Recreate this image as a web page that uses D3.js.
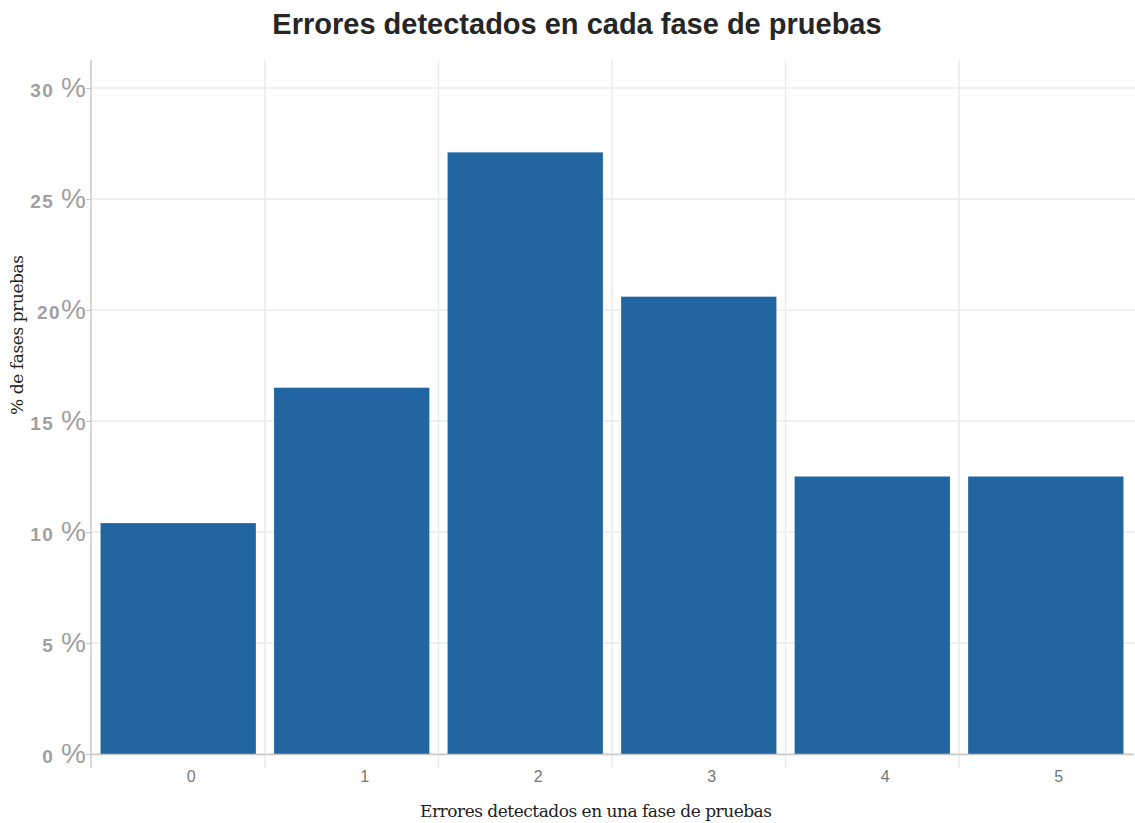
<!DOCTYPE html>
<html>
<head>
<meta charset="utf-8">
<script src="https://cdn.jsdelivr.net/npm/d3@7"></script>
<style>
  body { margin: 0; background: #fff; }
  .chart-title { font-family: "Liberation Sans", Arial, sans-serif; font-weight: bold; font-size: 29px; fill: #262626; }
  .axis-label { font-family: "DejaVu Serif", "Liberation Serif", serif; font-size: 17px; fill: #222; }
  .ytick text { font-family: "Liberation Sans", Arial, sans-serif; font-weight: bold; font-size: 19px; fill: #a0a0a0; letter-spacing: 1.5px; }
  .ytick text .pct { font-size: 28px; font-weight: normal; letter-spacing: 0; }
  .xtick text { font-family: "Liberation Sans", Arial, sans-serif; font-size: 16px; fill: #777; }
</style>
</head>
<body>
<div id="container"></div>
<script>
/* DATA */
const categories = ["0", "1", "2", "3", "4", "5"];
const percents = [10.4, 16.5, 27.1, 20.6, 12.5, 12.5];
const yTicks = [0, 5, 10, 15, 20, 25, 30];
const yTickLabels = ["0 ", "5 ", "10 ", "15 ", "20", "25 ", "30 "];

/* CONSTANTS */
const width = 1135;
const height = 823;
const plotLeft = 91, plotRight = 1133, plotTop = 60, plotBottom = 754;

const data = categories.map((c, i) => ({ cat: c, value: percents[i] }));

/* SCALES */
const xScale = d3.scaleBand()
  .domain(categories)
  .range([plotLeft, plotRight])
  .paddingInner(0.105)
  .paddingOuter(0.055);

const yScale = d3.scaleLinear()
  .domain([0, 30])
  .range([plotBottom, 88]);

const svg = d3.select("#container")
  .append("svg")
  .attr("width", width)
  .attr("height", height);

// horizontal gridlines
svg.append("g")
  .selectAll("line")
  .data(yTicks)
  .join("line")
  .attr("x1", plotLeft)
  .attr("x2", width)
  .attr("y1", d => yScale(d))
  .attr("y2", d => yScale(d))
  .attr("stroke", "#ebebeb")
  .attr("stroke-width", 1.5);

// vertical gridlines between categories
const step = xScale.step();
const bounds = categories.slice(1).map(c => xScale(c) - xScale.paddingInner() * step / 2);
svg.append("g")
  .selectAll("line")
  .data(bounds)
  .join("line")
  .attr("x1", d => d)
  .attr("x2", d => d)
  .attr("y1", plotTop)
  .attr("y2", 768)
  .attr("stroke", "#ebebeb")
  .attr("stroke-width", 1.5);

// bars
svg.append("g")
  .selectAll("rect")
  .data(data)
  .join("rect")
  .attr("x", d => xScale(d.cat))
  .attr("y", d => yScale(d.value))
  .attr("width", xScale.bandwidth())
  .attr("height", d => yScale(0) - yScale(d.value))
  .attr("fill", "#2166a1");

// axes lines
svg.append("line")
  .attr("x1", plotLeft).attr("x2", plotLeft)
  .attr("y1", plotTop).attr("y2", 768)
  .attr("stroke", "#c8c8c8").attr("stroke-width", 1.5);
svg.append("line")
  .attr("x1", plotLeft).attr("x2", plotRight)
  .attr("y1", plotBottom + 0.5).attr("y2", plotBottom + 0.5)
  .attr("stroke", "#c8c8c8").attr("stroke-width", 1.5);

// y-axis
const yAxis = d3.axisLeft(yScale)
  .tickValues(yTicks)
  .tickFormat("")
  .tickSize(5);
const yG = svg.append("g")
  .attr("class", "ytick")
  .attr("transform", `translate(${plotLeft}, 0)`)
  .call(yAxis)
  .call(g => g.select(".domain").remove())
  .call(g => g.selectAll(".tick line").attr("stroke", "#c8c8c8"));
yG.selectAll(".tick text")
  .attr("x", -5)
  .attr("dy", "0.45em")
  .each(function(d, i) {
    const t = d3.select(this);
    t.append("tspan").text(yTickLabels[i]);
    t.append("tspan").attr("class", "pct").text("%");
  });

// x-axis
const xAxis = d3.axisBottom(xScale).tickSize(0).tickPadding(17);
svg.append("g")
  .attr("class", "xtick")
  .attr("transform", `translate(13, ${plotBottom})`)
  .call(xAxis)
  .call(g => g.select(".domain").remove());

// x-axis label
svg.append("text")
  .attr("class", "axis-label")
  .attr("text-anchor", "middle")
  .attr("x", 596)
  .attr("y", 817)
  .attr("textLength", 352)
  .text("Errores detectados en una fase de pruebas");

// y-axis label
svg.append("text")
  .attr("class", "axis-label")
  .attr("text-anchor", "middle")
  .attr("transform", "rotate(-90)")
  .attr("x", -335)
  .attr("y", 23)
  .attr("textLength", 160)
  .text("% de fases pruebas");

// title
svg.append("text")
  .attr("class", "chart-title")
  .attr("text-anchor", "middle")
  .attr("x", 577)
  .attr("y", 34)
  .text("Errores detectados en cada fase de pruebas");
</script>
</body>
</html>
